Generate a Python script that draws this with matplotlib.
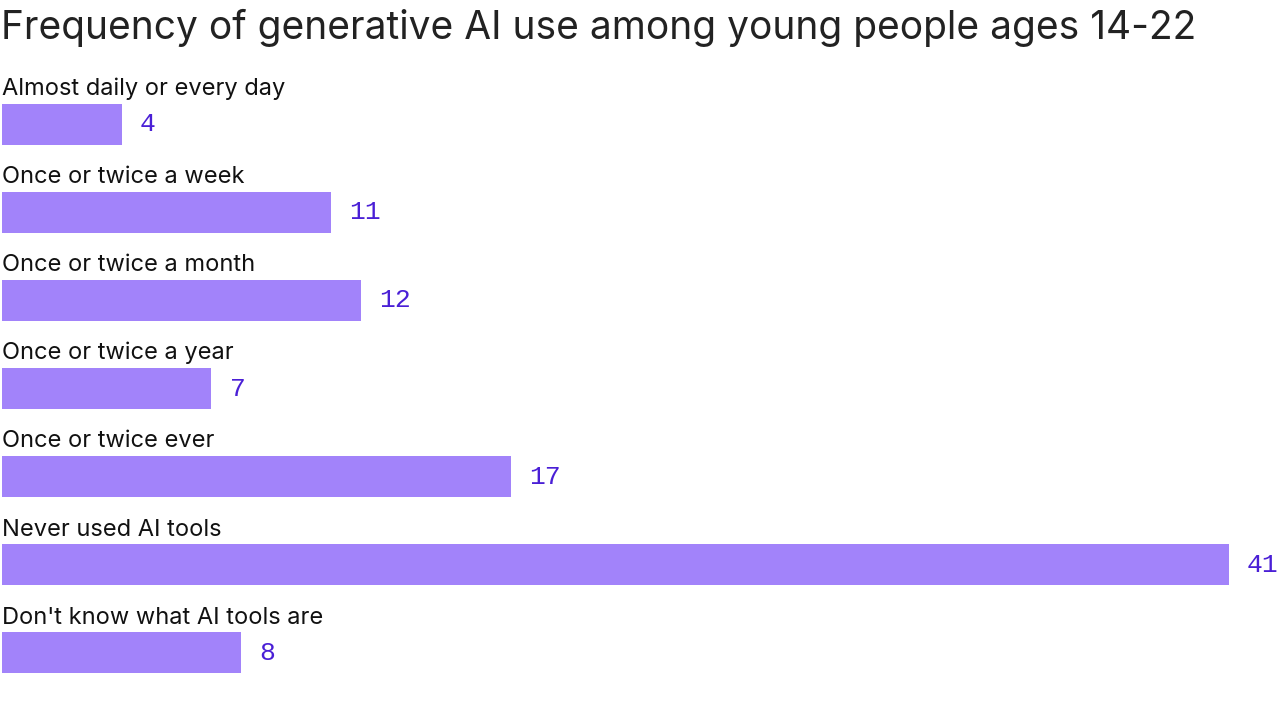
import matplotlib
matplotlib.use("Agg")
import matplotlib.pyplot as plt

categorias = ["Almost daily or every day", "Once or twice a week",
              "Once or twice a month", "Once or twice a year",
              "Once or twice ever", "Never used AI tools",
              "Don't know what AI tools are"]
valores = [4, 11, 12, 7, 17, 41, 8]

barra = "#a283fa"
etiqueta = "#4a1fd6"

fig = plt.figure(figsize=(12.8, 7.19), dpi=100)
ax = fig.add_axes([2 / 1280, 1 - 697 / 719, 1227 / 1280, 617 / 719])
ys = list(range(len(categorias)))
ax.barh(ys, valores, height=0.465, color=barra)
ax.set_xlim(0, 41)
ax.set_ylim(len(categorias) - 0.5, -0.5)
ax.axis("off")

for y, cat, v in zip(ys, categorias, valores):
    ax.text(0, y - 0.40, cat, ha="left", va="center", fontsize=17,
            family="Inter", color="#111111")
    ax.annotate(str(v), (v, y), xytext=(13, 0), textcoords="offset points",
                ha="left", va="center", fontsize=19, color=etiqueta,
                family="Liberation Mono", annotation_clip=False)

fig.text(1 / 1280, 1 - 28 / 719,
         "Frequency of generative AI use among young people ages 14-22",
         ha="left", va="center", fontsize=28, family="Inter", color="#222222")

fig.savefig("out.png", dpi=100, facecolor="white")
